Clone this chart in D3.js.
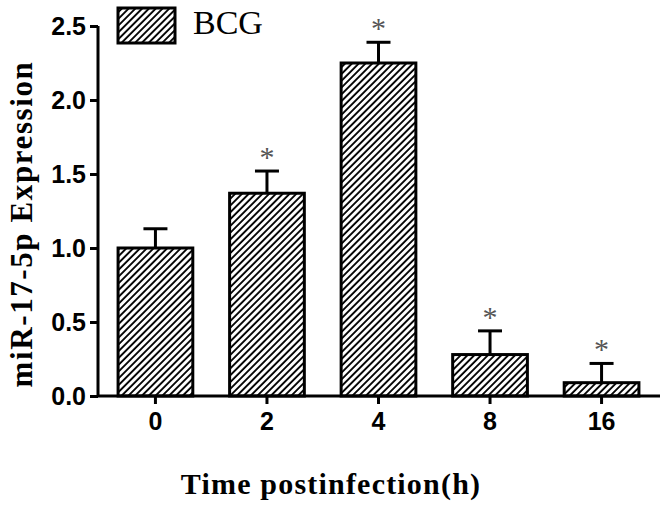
<!DOCTYPE html>
<html>
<head>
<meta charset="utf-8">
<title>miR-17-5p Expression</title>
<style>
  body { margin: 0; background: #fff; }
  svg { display: block; }
  .tick text { font-family: Arial, "Liberation Sans", sans-serif; font-weight: bold; }
</style>
</head>
<body>
<div id="chart"></div>
<script src="https://d3js.org/d3.v7.min.js"></script>
<script>
// data
var times = ["0", "2", "4", "8", "16"];
var means = [1.00, 1.37, 2.25, 0.28, 0.09];
var errors = [0.13, 0.15, 0.14, 0.16, 0.13];
var significant = [false, true, true, true, true];
var yTicks = [0, 0.5, 1.0, 1.5, 2.0, 2.5];
var seriesName = "BCG";

var W = 666, H = 507;
var svg = d3.select("#chart").append("svg")
    .attr("width", W)
    .attr("height", H);

// diagonal hatch
var defs = svg.append("defs");
defs.append("pattern")
    .attr("id", "hatch")
    .attr("patternUnits", "userSpaceOnUse")
    .attr("width", 4.8)
    .attr("height", 4.8)
    .attr("patternTransform", "rotate(45)")
  .append("line")
    .attr("x1", 1).attr("y1", 0)
    .attr("x2", 1).attr("y2", 4.8)
    .attr("stroke", "#000")
    .attr("stroke-width", 1.9);

var x = d3.scaleBand()
    .domain(times)
    .range([98, 659])
    .paddingInner(0.33)
    .paddingOuter(0.18);

var y = d3.scaleLinear()
    .domain([0, 2.5])
    .range([396, 26]);

// bars
svg.selectAll(".bar")
    .data(means)
    .enter()
    .append("rect")
    .attr("class", "bar")
    .attr("x", function(d, i){ return x(times[i]); })
    .attr("y", function(d){ return y(d); })
    .attr("width", x.bandwidth())
    .attr("height", function(d){ return y(0) - y(d); })
    .attr("fill", "url(#hatch)")
    .attr("stroke", "#000")
    .attr("stroke-width", 3);

// error bars (upper only)
var eb = svg.selectAll(".err")
    .data(means)
    .enter()
    .append("g")
    .attr("class", "err")
    .attr("stroke", "#000")
    .attr("stroke-width", 3);

eb.append("line")
    .attr("x1", function(d, i){ return x(times[i]) + x.bandwidth() / 2; })
    .attr("x2", function(d, i){ return x(times[i]) + x.bandwidth() / 2; })
    .attr("y1", function(d){ return y(d); })
    .attr("y2", function(d, i){ return y(d + errors[i]); });

eb.append("line")
    .attr("x1", function(d, i){ return x(times[i]) + x.bandwidth() / 2 - 12; })
    .attr("x2", function(d, i){ return x(times[i]) + x.bandwidth() / 2 + 12; })
    .attr("y1", function(d, i){ return y(d + errors[i]); })
    .attr("y2", function(d, i){ return y(d + errors[i]); });

// asterisks
svg.selectAll(".star")
    .data(means)
    .enter()
    .filter(function(d, i){ return significant[i]; })
    .append("text")
    .attr("class", "star")
    .attr("x", function(d){ return x(times[means.indexOf(d)]) + x.bandwidth() / 2; })
    .attr("y", function(d){ var i = means.indexOf(d); return y(d + errors[i]) - 4; })
    .attr("text-anchor", "middle")
    .attr("fill", "#555")
    .style("font-family", "'Liberation Serif', 'Times New Roman', serif")
    .style("font-size", "30px")
    .text("*");

// axes
var yAxis = svg.append("g")
    .attr("transform", "translate(98,0)")
    .call(d3.axisLeft(y).tickValues(yTicks).tickFormat(d3.format(".1f")).tickSize(8).tickPadding(4));

var xAxis = svg.append("g")
    .attr("transform", "translate(0,396)")
    .call(d3.axisBottom(x).tickSize(8).tickPadding(8).tickSizeOuter(0));

[yAxis, xAxis].forEach(function(a){
  a.select(".domain").attr("stroke", "#000").attr("stroke-width", 3);
  a.selectAll(".tick line").attr("stroke", "#000").attr("stroke-width", 3);
  a.selectAll(".tick text").attr("fill", "#000").style("font-size", "25px");
});
yAxis.select(".domain").attr("d", "M0," + y(2.5) + "V" + y(0));
xAxis.select(".domain").attr("d", "M98,0H660");

// axis titles
svg.append("text")
    .attr("transform", "translate(32," + 224 + ") rotate(-90)")
    .attr("text-anchor", "middle")
    .style("font-family", "'Liberation Serif', 'Times New Roman', serif")
    .style("font-weight", "bold")
    .style("font-size", "31px")
    .style("letter-spacing", "1.6px")
    .text("miR-17-5p Expression");

svg.append("text")
    .attr("x", 331)
    .attr("y", 494)
    .attr("text-anchor", "middle")
    .style("font-family", "'Liberation Serif', 'Times New Roman', serif")
    .style("font-weight", "bold")
    .style("font-size", "30px")
    .style("letter-spacing", "1.2px")
    .text("Time postinfection(h)");

// legend
svg.append("rect")
    .attr("x", 118)
    .attr("y", 8)
    .attr("width", 57)
    .attr("height", 35)
    .attr("fill", "url(#hatch)")
    .attr("stroke", "#000")
    .attr("stroke-width", 3);

svg.append("text")
    .attr("x", 193)
    .attr("y", 34)
    .style("font-family", "'Liberation Serif', 'Times New Roman', serif")
    .style("font-size", "34px")
    .text(seriesName);
</script>
</body>
</html>
